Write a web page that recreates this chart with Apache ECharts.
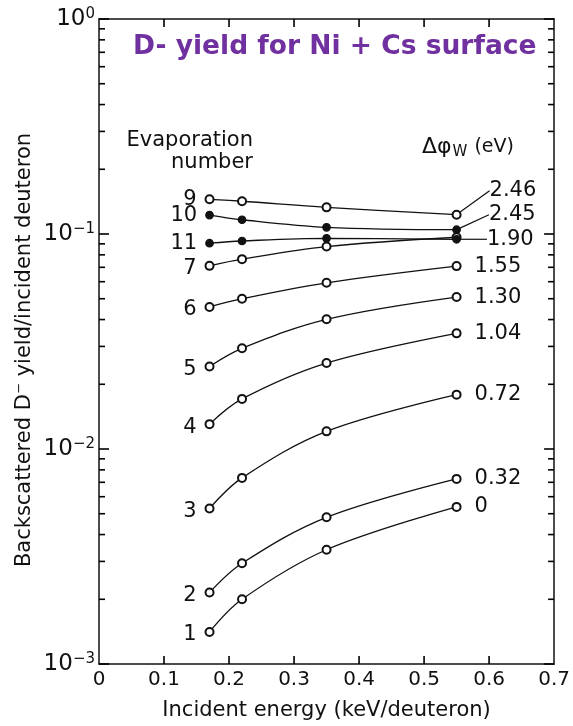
<!DOCTYPE html>
<html>
<head>
<meta charset="utf-8">
<script src="https://cdn.jsdelivr.net/npm/echarts@6/dist/echarts.min.js"></script>
<style>
html, body { margin: 0; padding: 0; background: #fff; }
#chart { width: 573px; height: 726px; }
</style>
</head>
<body>
<div id="chart"></div>
<script>
var energy = [0.17, 0.22, 0.35, 0.55]
var evap_numbers = ['9', '10', '11', '7', '6', '5', '4', '3', '2', '1']
var work_fn = ['2.46', '2.45', '1.90', '', '1.55', '1.30', '1.04', '0.72', '0.32', '0']
var filled = [false, true, true, false, false, false, false, false, false, false]

var yield_9 = [0.145, 0.142, 0.133, 0.123]
var yield_10 = [0.1225, 0.1165, 0.1074, 0.1047]
var yield_11 = [0.0906, 0.0928, 0.0955, 0.0945]
var yield_7 = [0.0711, 0.0764, 0.0874, 0.0966]
var yield_6 = [0.0458, 0.050, 0.0593, 0.0709]
var yield_5 = [0.0242, 0.0294, 0.0401, 0.0509]
var yield_4 = [0.01305, 0.0171, 0.0251, 0.0345]
var yield_3 = [0.00529, 0.00734, 0.01208, 0.0179]
var yield_2 = [0.00215, 0.00294, 0.00481, 0.00726]
var yield_1 = [0.00141, 0.0020, 0.0034, 0.00538]
var yields = [yield_9, yield_10, yield_11, yield_7, yield_6, yield_5, yield_4, yield_3, yield_2, yield_1]

var x_ticks = [0.1, 0.2, 0.3, 0.4, 0.5, 0.6]
var y_ticks = [0.001, 0.01, 0.1, 1]
var y_minor = [0.002, 0.003, 0.004, 0.005, 0.006, 0.007, 0.008, 0.009,
	0.02, 0.03, 0.04, 0.05, 0.06, 0.07, 0.08, 0.09,
	0.2, 0.3, 0.4, 0.5, 0.6, 0.7, 0.8, 0.9]

// where the arrowed labels sit, relative to their normal place
var arrow_shift = {
	'2.46': [15, -24],
	'2.45': [15, -15],
	'1.90': [13, 0]
}

var ink = '#111'
var font = 'DejaVu Sans'

var chartDom = document.getElementById('chart');
var myChart = echarts.init(chartDom);

function yAxis(pos, showLabel) {
	var axis = {
		type: 'log',
		position: pos,
		min: 0.001,
		max: 1,
		axisLine: { show: true, onZero: false, lineStyle: { color: ink, width: 1.5 } },
		axisTick: { show: false },
		axisLabel: { show: false },
		splitLine: { show: false }
	}
	if (showLabel) {
		axis.axisLabel = {
			show: true,
			customValues: y_ticks,
			margin: 4,
			formatter: function (v) {
				var e = Math.round(Math.log10(v))
				return '{b|10}{s|' + (e < 0 ? '\u2212' + (-e) : e) + '}'
			},
			rich: {
				b: { fontFamily: font, fontSize: 23, lineHeight: 24, color: ink, verticalAlign: 'bottom' },
				s: { fontFamily: font, fontSize: 15, lineHeight: 15, color: ink, verticalAlign: 'top', padding: [0, 0, 11, 0] }
			}
		}
	}
	return axis
}

function xAxis(pos, showLabel) {
	return {
		type: 'value',
		min: 0,
		max: 0.7,
		interval: 0.1,
		position: pos,
		axisLine: { show: true, onZero: false, lineStyle: { color: ink, width: 1.5 } },
		axisTick: { show: false },
		axisLabel: {
			show: showLabel, fontFamily: font, fontSize: 20, color: ink, margin: 6,
			formatter: function (v) { return String(Math.round(v * 10) / 10) }
		},
		splitLine: { show: false }
	}
}

var xAxes = [xAxis('bottom', true), xAxis('top', false)]
xAxes[0].name = 'Incident energy (keV/deuteron)'
xAxes[0].nameLocation = 'middle'
xAxes[0].nameGap = 36
xAxes[0].nameTextStyle = { fontFamily: font, fontSize: 21, color: ink }

var series = evap_numbers.map(function (num, i) {
	var shift = arrow_shift[work_fn[i]]
	var last = yields[i].length - 1
	return {
		type: 'line',
		smooth: 0.35,
		symbol: filled[i] ? 'circle' : 'emptyCircle',
		symbolSize: filled[i] ? 7.5 : 8,
		itemStyle: { color: ink, borderColor: ink, borderWidth: 1.2 },
		lineStyle: { color: ink, width: 1.3 },
		label: { fontFamily: font, fontSize: 21, color: ink },
		emphasis: { disabled: true },
		z: filled[i] ? 3 : 2,
		data: yields[i].map(function (v, j) {
			var item = { value: [energy[j], v] }
			if (j === 0) {
				item.label = { show: true, position: 'left', distance: 8, offset: [0, 3], formatter: num }
			}
			if (j === last && work_fn[i] !== '') {
				item.label = { show: true, position: 'right', distance: 13, formatter: work_fn[i] }
				if (shift) item.labelLine = { show: true, lineStyle: { color: ink, width: 1.2 } }
			}
			return item
		}),
		labelLayout: shift ? function (p) {
			return p.dataIndex === last ? { dx: shift[0], dy: shift[1] } : {}
		} : undefined
	}
})

var tickStyle = { stroke: '#000', lineWidth: 1.6 }

// inward log ticks on both frame sides, placed by the y scale
series.push({
	type: 'custom',
	coordinateSystem: 'cartesian2d',
	silent: true,
	clip: false,
	z: 5,
	data: y_ticks.concat(y_minor).map(function (v) { return [0, v] }),
	renderItem: function (params, api) {
		var v = api.value(1)
		var len = y_ticks.indexOf(v) >= 0 ? 10 : 6
		var l = api.coord([0, v])
		var r = api.coord([0.7, v])
		return {
			type: 'group',
			children: [
				{ type: 'line', shape: { x1: l[0], y1: l[1], x2: l[0] + len, y2: l[1] }, style: tickStyle },
				{ type: 'line', shape: { x1: r[0] - len, y1: r[1], x2: r[0], y2: r[1] }, style: tickStyle }
			]
		}
	}
})

// inward energy ticks on bottom and top
series.push({
	type: 'custom',
	coordinateSystem: 'cartesian2d',
	silent: true,
	clip: false,
	z: 5,
	data: x_ticks.map(function (v) { return [v, 0.001] }),
	renderItem: function (params, api) {
		var v = api.value(0)
		var b = api.coord([v, 0.001])
		var t = api.coord([v, 1])
		return {
			type: 'group',
			children: [
				{ type: 'line', shape: { x1: b[0], y1: b[1], x2: b[0], y2: b[1] - 8 }, style: tickStyle },
				{ type: 'line', shape: { x1: t[0], y1: t[1], x2: t[0], y2: t[1] + 8 }, style: tickStyle }
			]
		}
	}
})

var option = {
	animation: false,
	title: {
		text: 'D- yield for Ni + Cs surface',
		left: 128,
		top: 29,
		textStyle: { fontFamily: font, fontWeight: 'bold', fontSize: 26.5, color: '#7030a0' }
	},
	grid: { left: 99, right: 11, top: 19, bottom: 60 },
	xAxis: xAxes,
	yAxis: [yAxis('left', true), yAxis('right', false)],
	graphic: [{
		type: 'text',
		x: 25,
		y: 350,
		rotation: Math.PI / 2,
		style: {
			text: 'Backscattered D\u207B yield/incident deuteron',
			align: 'center',
			verticalAlign: 'middle',
			font: '21px "DejaVu Sans"',
			fill: ink
		}
	}, {
		type: 'text',
		style: {
			text: 'Evaporation\nnumber',
			x: 253,
			y: 130,
			align: 'right',
			verticalAlign: 'top',
			lineHeight: 22,
			font: '21px "DejaVu Sans"',
			fill: ink
		}
	}, {
		type: 'text',
		style: {
			text: '{a|\u0394\u03C6}{w|W}{e| (eV)}',
			x: 422,
			y: 136,
			verticalAlign: 'top',
			fill: ink,
			rich: {
				a: { fontFamily: font, fontSize: 22, lineHeight: 24, verticalAlign: 'top', fill: ink },
				w: { fontFamily: font, fontSize: 15, lineHeight: 15, verticalAlign: 'bottom', padding: [14, 1, 0, 1], fill: ink },
				e: { fontFamily: font, fontSize: 19, lineHeight: 24, verticalAlign: 'top', padding: [2, 0, 0, 0], fill: ink }
			}
		}
	}],
	series: series
};

myChart.setOption(option);
</script>
</body>
</html>
